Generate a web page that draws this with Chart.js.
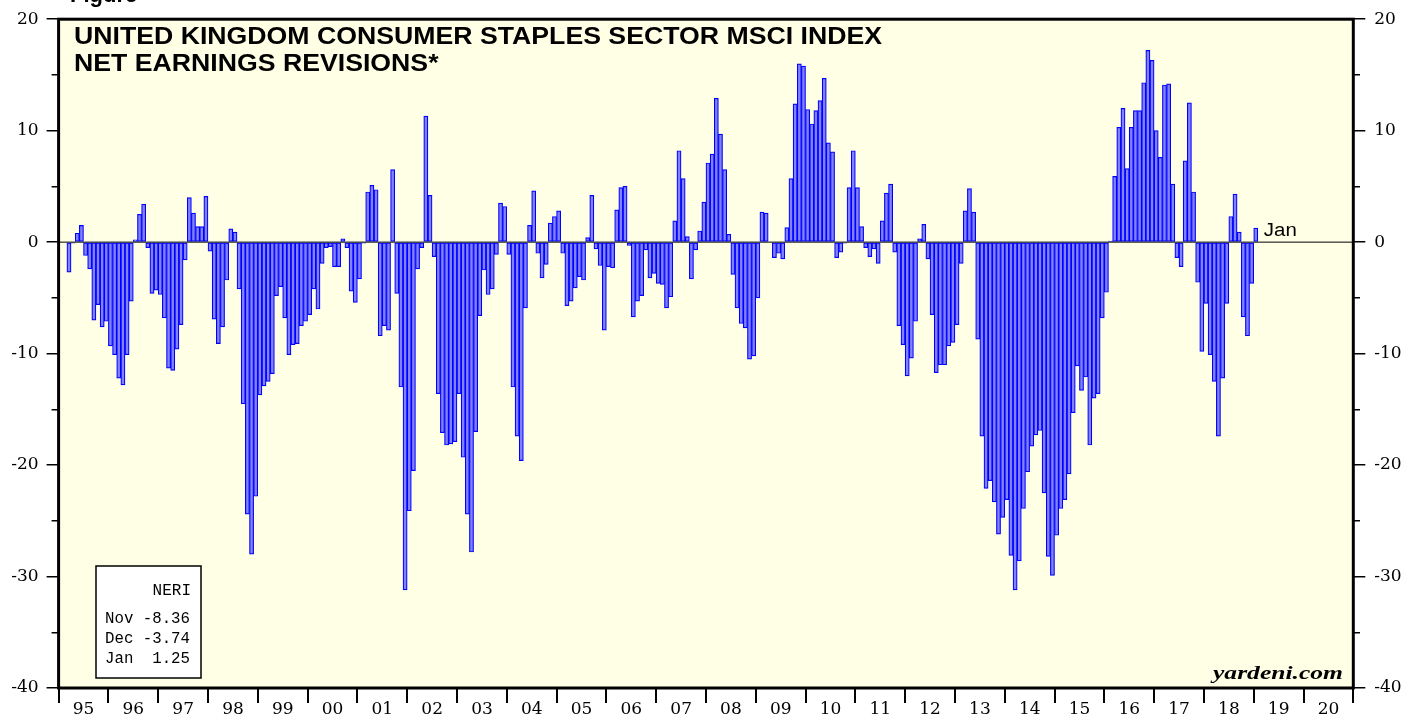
<!DOCTYPE html>
<html>
<head>
<meta charset="utf-8">
<title>United Kingdom Consumer Staples Sector MSCI Index - NERI</title>
<script src="https://cdn.jsdelivr.net/npm/chart.js@4.4.1/dist/chart.umd.min.js"></script>
<style>
  html, body { margin: 0; padding: 0; background: #fff; }
  canvas { display: block; }
</style>
</head>
<body>
<canvas id="myChart" width="1419" height="717"></canvas>
<script>
// x axis: one slot per month, a label per year
var years = ['95', '96', '97', '98', '99', '00', '01', '02', '03', '04', '05', '06', '07',
             '08', '09', '10', '11', '12', '13', '14', '15', '16', '17', '18', '19', '20'];
var months = ['Jan', 'Feb', 'Mar', 'Apr', 'May', 'Jun', 'Jul', 'Aug', 'Sep', 'Oct', 'Nov', 'Dec'];

// net earnings revisions, monthly from Mar 1995 to Jan 2019
var firstSlot = 2; // Mar 95
var neri = [
  -2.7, -0.1, 0.8, 1.5, -1.2, -2.4, -7.0, -5.6, -7.6, -7.1,
  -9.3, -10.1, -12.2, -12.8, -10.1, -5.3, 0.2, 2.5, 3.4, -0.5, -4.6, -4.3,
  -4.7, -6.8, -11.3, -11.5, -9.6, -7.4, -1.6, 4.0, 2.6, 1.4, 1.4, 4.1,
  -0.8, -6.9, -9.1, -7.6, -3.4, 1.2, 0.9, -4.2, -14.5, -24.4, -28.0, -22.8,
  -13.7, -12.9, -12.5, -11.8, -4.8, -4.0, -6.8, -10.1, -9.2, -9.1, -7.5, -7.1,
  -6.5, -4.2, -6.0, -1.9, -0.5, -0.4, -2.2, -2.2, 0.3, -0.5, -4.4, -5.4,
  -3.3, -0.1, 4.5, 5.1, 4.7, -8.4, -7.5, -7.9, 6.5, -4.6, -13.0, -31.2,
  -24.1, -20.5, -2.4, -0.5, 11.3, 4.2, -1.3, -13.6, -17.1, -18.2, -18.1, -17.9,
  -13.6, -19.3, -24.4, -27.8, -17.0, -6.6, -2.5, -4.7, -4.2, -1.1, 3.5, 3.2,
  -1.1, -13.0, -17.4, -19.6, -5.9, 1.5, 4.6, -1.0, -3.2, -2.0, 1.7, 2.3,
  2.8, -1.0, -5.7, -5.3, -4.1, -3.1, -3.4, 0.4, 4.2, -0.6, -2.1, -7.9,
  -2.2, -2.3, 2.9, 4.9, 5.0, -0.3, -6.7, -5.3, -4.8, -0.7, -3.2, -2.8,
  -3.7, -3.8, -5.9, -4.9, 1.9, 8.2, 5.7, 0.5, -3.3, -0.7, 1.0, 3.6,
  7.1, 7.9, 12.9, 9.7, 6.5, 0.7, -2.9, -5.9, -7.3, -7.7, -10.5, -10.2,
  -5.0, 2.7, 2.6, 0.0, -1.4, -1.0, -1.5, 1.3, 5.7, 12.4, 16.0, 15.8,
  11.9, 10.6, 11.8, 12.7, 14.7, 8.9, 8.1, -1.4, -0.9, -0.1, 4.9, 8.2,
  4.9, 1.4, -0.5, -1.3, -0.6, -1.9, 1.9, 4.4, 5.2, -0.9, -7.5, -9.2,
  -12.0, -10.4, -7.1, 0.3, 1.6, -1.5, -6.5, -11.7, -11.0, -11.0, -9.3, -9.0,
  -7.4, -1.9, 2.8, 4.8, 2.7, -8.7, -17.4, -22.1, -21.4, -23.3, -26.2, -24.7,
  -23.1, -28.1, -31.2, -28.6, -23.9, -20.6, -18.3, -17.3, -16.9, -22.5, -28.2, -29.9,
  -26.3, -23.9, -23.1, -20.8, -15.3, -11.1, -13.3, -12.1, -18.2, -14.0, -13.6, -6.8,
  -4.5, 0.1, 5.9, 10.3, 12.0, 6.6, 10.3, 11.8, 11.8, 14.3, 17.2, 16.3,
  10.0, 7.6, 14.1, 14.2, 5.2, -1.4, -2.2, 7.3, 12.5, 4.5, -3.6, -9.8,
  -5.5, -10.1, -12.5, -17.4, -12.2, -5.5, 2.3, 4.3, 0.9, -6.7, -8.4, -3.7,
  1.25
];

// y axis range
var yMin = -40, yMax = 20, yStep = 5, yLabelStep = 10;

// little box bottom left
var boxTitle = 'NERI';
var boxMonths = ['Nov', 'Dec', 'Jan'];
var boxValues = [-8.36, -3.74, 1.25];

var titleLines = ['UNITED KINGDOM CONSUMER STAPLES SECTOR MSCI INDEX', 'NET EARNINGS REVISIONS*'];

// build labels and the padded series
var labels = [];
var values = [];
for (var y = 0; y < years.length; y++) {
  for (var m = 0; m < 12; m++) {
    labels.push(months[m] + ' ' + years[y]);
    values.push(null);
  }
}
for (var k = 0; k < neri.length; k++) {
  values[firstSlot + k] = neri[k];
}
var lastSlot = firstSlot + neri.length - 1;

// draw text squeezed/stretched to a given width
function fitText(c, text, x, y, font, width, align) {
  c.save();
  c.font = font;
  var w = c.measureText(text).width;
  var sx = width / w;
  c.translate(align === 'right' ? x - width : x, y);
  c.scale(sx, 1);
  c.textAlign = 'left';
  c.textBaseline = 'alphabetic';
  c.fillText(text, 0, 0);
  c.restore();
}

var decor = {
  id: 'decor',
  beforeDraw: function(chart) {
    var c = chart.ctx, a = chart.chartArea;
    c.save();
    c.fillStyle = '#ffffff';
    c.fillRect(0, 0, chart.width, chart.height);
    c.fillStyle = '#ffffe6';
    c.fillRect(a.left, a.top, a.right - a.left, a.bottom - a.top);
    c.restore();
  },
  afterDatasetsDraw: function(chart) {
    var c = chart.ctx, a = chart.chartArea;
    var y0 = chart.scales.y.getPixelForValue(0);
    c.save();
    c.strokeStyle = '#000';
    c.lineWidth = 1;
    c.beginPath();
    c.moveTo(a.left, y0);
    c.lineTo(a.right, y0);
    c.stroke();
    c.restore();
  },
  afterDraw: function(chart) {
    var c = chart.ctx, a = chart.chartArea;
    c.save();

    // frame
    c.strokeStyle = '#000';
    c.lineWidth = 3;
    c.strokeRect(a.left, a.top, a.right - a.left, a.bottom - a.top);

    c.fillStyle = '#000';
    // cut off figure caption at the very top
    c.font = 'bold 22px "Liberation Sans"';
    c.textAlign = 'left';
    c.textBaseline = 'alphabetic';
    c.fillText('Figure', 70, 1.5);

    // title
    c.font = 'bold 23.3px "Liberation Sans"';
    var sx = 808 / c.measureText(titleLines[0]).width;
    for (var i = 0; i < titleLines.length; i++) {
      c.save();
      c.translate(74, 44 + i * 26.5);
      c.scale(sx, 1);
      c.fillText(titleLines[i], 0, 0);
      c.restore();
    }

    // label next to the last bar
    var meta = chart.getDatasetMeta(0);
    var bar = meta.data[lastSlot];
    var y0 = chart.scales.y.getPixelForValue(0);
    fitText(c, months[lastSlot % 12], bar.x + bar.width / 2 + 6, y0 - 6.5,
            '18px "Liberation Sans"', 33, 'left');

    // NERI box
    c.fillStyle = '#fff';
    c.fillRect(96, 566, 105, 112);
    c.strokeStyle = '#000';
    c.lineWidth = 1.5;
    c.strokeRect(96, 566, 105, 112);
    c.fillStyle = '#000';
    c.font = '16px "Liberation Mono"';
    c.textAlign = 'right';
    c.fillText(boxTitle, 191, 595);
    c.textAlign = 'left';
    for (var j = 0; j < boxMonths.length; j++) {
      var v = boxValues[j].toFixed(2);
      while (v.length < 5) v = ' ' + v;
      fitText(c, boxMonths[j] + ' ' + v, 105, 623 + j * 20, '16px "Liberation Mono"', 85, 'left');
    }

    // source
    fitText(c, 'yardeni.com', 1343, 679, 'bold italic 18px "Liberation Serif"', 130, 'right');

    c.restore();
  }
};

var tickFont = { family: '"DejaVu Serif"', size: 17 };

// minor ticks (every 5) drawn shorter than the labelled ones
function minorDash(side) {
  return function(c) {
    if (c.tick && c.tick.value % yLabelStep !== 0) {
      return side === 'left' ? [0, 5, 7, 100] : [7, 100];
    }
    return [];
  };
}

var ctx = document.getElementById('myChart').getContext('2d');
var chart = new Chart(ctx, {
    type: 'bar',
    data: {
        labels: labels,
        datasets: [{
            label: 'NERI',
            data: values,
            backgroundColor: 'rgb(130, 130, 255)',
            borderColor: '#0000ff',
            borderWidth: 1.2,
            borderSkipped: false,
            barPercentage: 1,
            categoryPercentage: 1
        }]
    },
    options: {
        responsive: false,
        animation: false,
        devicePixelRatio: 1,
        events: [],
        layout: { padding: { top: 15, left: 0, right: 0, bottom: 0 } },
        plugins: {
            legend: { display: false },
            tooltip: { enabled: false },
            title: { display: false }
        },
        scales: {
            x: {
                type: 'category',
                offset: true,
                border: { display: false },
                grid: {
                    offset: true,
                    drawOnChartArea: false,
                    drawTicks: true,
                    tickLength: 15,
                    color: function(c) {
                        return (c.type !== 'tick' || c.index % 12 === 0) ? '#000' : 'rgba(0,0,0,0)';
                    },
                    lineWidth: 2
                },
                ticks: {
                    autoSkip: false,
                    maxRotation: 0,
                    minRotation: 0,
                    padding: -4,
                    labelOffset: -2,
                    color: '#000',
                    font: tickFont,
                    callback: function(v, i) {
                        return i % 12 === 6 ? years[Math.floor(i / 12)] : '';
                    }
                },
                afterFit: function(s) { s.height = 29; }
            },
            y: {
                position: 'left',
                min: yMin,
                max: yMax,
                border: { display: false },
                grid: {
                    drawOnChartArea: false,
                    tickLength: 12,
                    color: '#000',
                    lineWidth: 1.5,
                    tickBorderDash: minorDash('left')
                },
                ticks: {
                    stepSize: yStep,
                    autoSkip: false,
                    padding: 8,
                    color: '#000',
                    font: tickFont,
                    callback: function(v) { return v % yLabelStep === 0 ? v : ''; }
                },
                afterFit: function(s) { s.width = 58.6; }
            },
            y2: {
                position: 'right',
                min: yMin,
                max: yMax,
                border: { display: false },
                grid: {
                    drawOnChartArea: false,
                    tickLength: 12,
                    color: '#000',
                    lineWidth: 1.5,
                    tickBorderDash: minorDash('right')
                },
                ticks: {
                    stepSize: yStep,
                    autoSkip: false,
                    padding: 9,
                    color: '#000',
                    font: tickFont,
                    callback: function(v) { return v % yLabelStep === 0 ? v : ''; }
                },
                afterFit: function(s) { s.width = 65.7; }
            }
        }
    },
    plugins: [decor]
});
</script>
</body>
</html>
